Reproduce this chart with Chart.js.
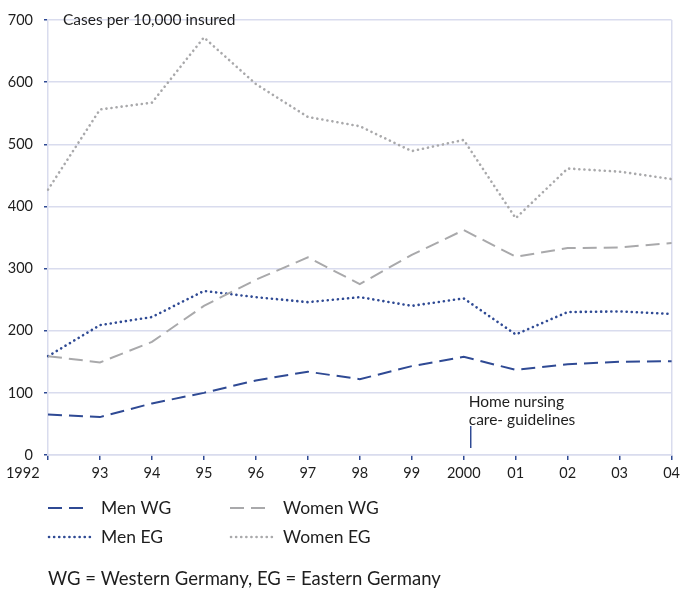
<!DOCTYPE html>
<html>
<head>
<meta charset="utf-8">
<script src="https://cdn.jsdelivr.net/npm/chart.js@4.4.1/dist/chart.umd.min.js"></script>
<style>
  html, body { margin: 0; padding: 0; background: #fff; }
  #wrap { position: relative; width: 685px; height: 592px; }
</style>
</head>
<body>
<div id="wrap"><canvas id="c" width="685" height="592"></canvas></div>
<script>
const years = ['1992','93','94','95','96','97','98','99','2000','01','02','03','04'];
const menWG   = [65, 61, 83, 100, 120, 134, 122, 143, 158, 137, 146, 150, 151];
const womenWG = [159, 149, 182, 240, 282, 318, 275, 322, 362, 319, 333, 334, 341];
const menEG   = [159, 209, 222, 264, 254, 246, 254, 240, 252, 194, 230, 231, 227];
const womenEG = [427, 556, 567, 672, 597, 544, 529, 489, 507, 381, 461, 456, 444];
const yTicks  = [0, 100, 200, 300, 400, 500, 600, 700];
const unitLabel = 'Cases per 10,000 insured';
const noteLines = ['Home nursing', 'care- guidelines'];
const footnote = 'WG = Western Germany, EG = Eastern Germany';

const BLUE = '#2f4a94';
const GREY = '#a9a9ab';
const GRID = '#d9dcee';
const FONT = 'Lato, "Open Sans", sans-serif';
const TXT = '#1e1e1e';

const datasets = [
  { label: 'Men WG', data: menWG, borderColor: BLUE, borderDash: [14, 7], borderWidth: 2 },
  { label: 'Women WG', data: womenWG, borderColor: GREY, borderDash: [14, 7], borderWidth: 2 },
  { label: 'Men EG', data: menEG, borderColor: BLUE, borderDash: [0.1, 5], borderWidth: 2.6, borderCapStyle: 'round' },
  { label: 'Women EG', data: womenEG, borderColor: GREY, borderDash: [0.1, 5], borderWidth: 2.6, borderCapStyle: 'round' }
].map(d => Object.assign({ pointRadius: 0, fill: false, tension: 0 }, d));

const extras = {
  id: 'extras',
  afterDraw(chart) {
    const ctx = chart.ctx;
    const xs = chart.scales.x, ys = chart.scales.y;
    ctx.save();
    ctx.fillStyle = TXT;
    ctx.textBaseline = 'middle';
    ctx.textAlign = 'left';
    ctx.font = '15.5px ' + FONT;
    ctx.fillText(unitLabel, 63, ys.getPixelForValue(700));
    // annotation
    const ax = xs.getPixelForValue(8) + 7;
    ctx.font = '15.5px ' + FONT;
    ctx.fillText(noteLines[0], ax - 2, 402);
    ctx.fillText(noteLines[1], ax - 2, 420);
    ctx.strokeStyle = BLUE;
    ctx.lineWidth = 1.5;
    ctx.beginPath();
    ctx.moveTo(ax, 426);
    ctx.lineTo(ax, 448);
    ctx.stroke();
    // legend
    const items = [
      [0, 48, 508], [1, 230, 508], [2, 48, 537], [3, 230, 537]
    ];
    ctx.font = '17.5px ' + FONT;
    items.forEach(([i, x, y]) => {
      const ds = chart.data.datasets[i];
      ctx.save();
      ctx.strokeStyle = ds.borderColor;
      ctx.lineWidth = ds.borderWidth;
      ctx.lineCap = ds.borderCapStyle || 'butt';
      ctx.setLineDash(ds.borderDash);
      ctx.beginPath();
      ctx.moveTo(x + (i >= 2 ? 1 : 0), y);
      ctx.lineTo(x + 42, y);
      ctx.stroke();
      ctx.restore();
      ctx.fillStyle = TXT;
      ctx.fillText(ds.label, x + 53, y);
    });
    ctx.font = '18.5px ' + FONT;
    ctx.fillText(footnote, 48, 579);
    ctx.restore();
  }
};

new Chart(document.getElementById('c'), {
  type: 'line',
  data: { labels: years, datasets },
  options: {
    responsive: false,
    animation: false,
    events: [],
    layout: { padding: { left: 0, right: 12, top: 20, bottom: 107 } },
    plugins: { legend: { display: false }, tooltip: { enabled: false } },
    scales: {
      x: {
        offset: false,
        afterFit: s => { s.height = 30; },
        grid: {
          color: c => c.index === years.length - 1 ? GRID : 'rgba(0,0,0,0)',
          lineWidth: 1.5,
          tickColor: BLUE,
          tickLength: 5,
          drawOnChartArea: true
        },
        border: { color: GRID, width: 1.5 },
        ticks: {
          color: TXT, font: { family: FONT, size: 14.5 }, padding: 5,
          maxRotation: 0, autoSkip: false,
          callback: (v, i) => i === 0 ? years[i] + '\u2007\u2007\u2007\u2007\u2007\u2007' : years[i]
        }
      },
      y: {
        min: 0, max: 700,
        afterFit: s => { s.width = 48; },
        afterBuildTicks: s => { s.ticks = yTicks.map(v => ({ value: v })); },
        grid: { color: GRID, lineWidth: 1.5, tickColor: BLUE, tickLength: 4 },
        border: { color: GRID, width: 1.5 },
        ticks: { color: TXT, font: { family: FONT, size: 14.5 }, padding: 11 }
      }
    }
  },
  plugins: [extras]
});
</script>
</body>
</html>
